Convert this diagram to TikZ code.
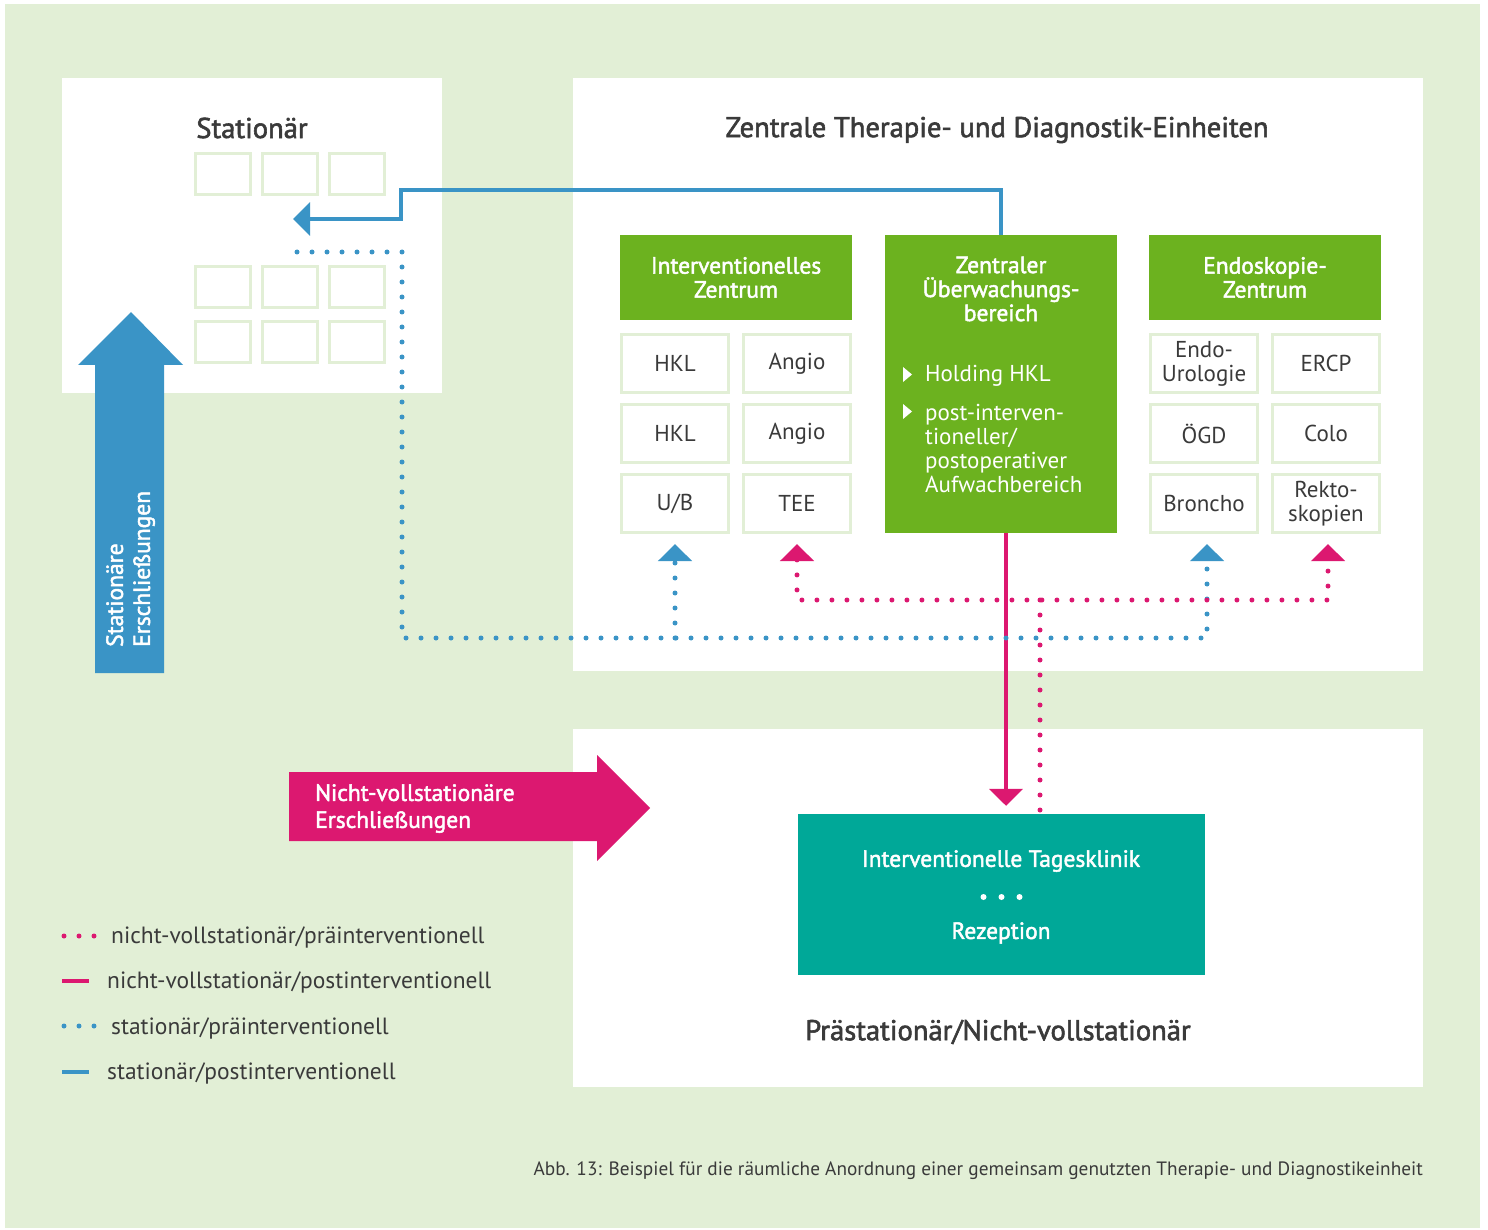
\documentclass[tikz,border=0pt]{standalone}
\usepackage{fontspec}
\usepackage{graphicx}
\setmainfont{PT Sans}
\newfontfamily\medfont[FakeBold=2]{PT Sans}
\usetikzlibrary{arrows.meta,positioning}

\definecolor{bggreen}{HTML}{E2EFD6}
\definecolor{hdgreen}{HTML}{6CB21F}
\definecolor{stblue}{HTML}{3A94C6}
\definecolor{nvmagenta}{HTML}{DC1870}
\definecolor{tkteal}{HTML}{00A898}
\definecolor{txtgray}{HTML}{3A3A3A}

\begin{document}
\begin{tikzpicture}
[
x=1pt, y=-1pt,
font=\fontsize{23}{24}\selectfont,
panel/.style={fill=white, inner sep=0pt},
room/.style={draw=bggreen, line width=3pt, minimum width=55pt, minimum height=41pt, inner sep=0pt},
cell/.style={draw=bggreen, line width=3pt, fill=white, minimum width=107pt, minimum height=58pt, inner sep=0pt, align=center, text=txtgray},
head/.style={fill=hdgreen, text=white, align=center, minimum width=232pt, inner sep=0pt, font=\medfont\fontsize{23.5}{24}\selectfont},
title/.style={text=txtgray, inner sep=0pt, font=\medfont\fontsize{28.6}{30}\selectfont},
white text/.style={text=white, inner sep=0pt, align=left, font=\medfont\fontsize{23.5}{27}\selectfont},
legend/.style={anchor=west, text=txtgray, inner sep=0pt, font=\fontsize{23.5}{24}\selectfont},
post/.style={line width=4pt, -{Triangle[length=17pt,width=33pt]}},
prae/.style={line width=5pt, line cap=round, dash pattern=on 0pt off 15pt}
]
\useasboundingbox (0,0) rectangle (1488,1230);
\fill[white] (0,0) rectangle (1488,1230);
\fill[bggreen] (5,4) rectangle (1480,1228);

% Bereiche
\node[panel, minimum width=380pt, minimum height=315pt] (stat) at (252,235.5) {};
\node[panel, minimum width=850pt, minimum height=593pt] (zent) at (998,374.5) {};
\node[panel, minimum width=850pt, minimum height=358pt] (prae) at (998,908) {};

\node[title] (stattitle) at (252,128) {Stationär};
\node[title] (zenttitle) at (997,130) {Zentrale Therapie- und Diagnostik-Einheiten};
\node[title] (praetitle) at (998,1032) {Prästationär/Nicht-vollstationär};

% Zimmer
\foreach \r/\yy in {1/174,2/287.5,3/342.5}
  \foreach \c/\xx in {1/223,2/290,3/357}
    \node[room] (room\r\c) at (\xx,\yy) {};

% Stationaere Erschliessungen
\fill[stblue] (95,673) -- (95,365) -- (78,365) -- (131,312) -- (183,365) -- (164,365) -- (164,673) -- cycle;
\node[white text, rotate=90, anchor=north west] (stattext) at (106,647) {Stationäre\\Erschließungen};

% Zentren
\node[head, minimum height=85pt] (iz) at (736,277.5) {Interventionelles\\Zentrum};
\node[head, minimum height=298pt] (zub) at (1001,384) {};
\node[head, minimum height=85pt] (ez) at (1265,277.5) {Endoskopie-\\Zentrum};

\node[head, fill=none] (zubtitle) at (1001,289) {Zentraler\\Überwachungs-\\bereich};
\fill[white] (903,367) -- (912,374.5) -- (903,382) -- cycle;
\fill[white] (903,404) -- (912,411.5) -- (903,419) -- cycle;
\node[anchor=west, text=white, inner sep=0pt] (holding) at (925,376) {Holding HKL};
\node[anchor=north west, align=left, text=white, inner sep=0pt] (aufwach) at (925,404) {post-interven-\\tioneller/\\postoperativer\\Aufwachbereich};

\node[cell] (hkla) at (675,363.5) {HKL};
\node[cell] (angioa) at (797,363.5) {Angio};
\node[cell] (hklb) at (675,433.5) {HKL};
\node[cell] (angiob) at (797,433.5) {Angio};
\node[cell] (ub) at (675,503.5) {U/B};
\node[cell] (tee) at (797,503.5) {TEE};

\node[cell] (endouro) at (1204,363.5) {Endo-\\Urologie};
\node[cell] (ercp) at (1326,363.5) {ERCP};
\node[cell] (ogd) at (1204,433.5) {ÖGD};
\node[cell] (colo) at (1326,433.5) {Colo};
\node[cell] (broncho) at (1204,503.5) {Broncho};
\node[cell] (rekto) at (1326,503.5) {Rekto-\\skopien};

% Tagesklinik
\node[fill=tkteal, minimum width=407pt, minimum height=161pt, inner sep=0pt] (tk) at (1001.5,894.5) {};
\node[white text] (tktitle) at (1001,861) {Interventionelle Tagesklinik};
\foreach \dx in {-18,0,18}
  \fill[white] ([xshift=\dx pt, yshift=-2.5pt]tk.center) circle (3pt);
\node[white text] (rezeption) at (1001,933) {Rezeption};

% Nicht-vollstationaere Erschliessungen
\fill[nvmagenta] (289,772) -- (597,772) -- (597,755) -- (650,808) -- (597,861) -- (597,841) -- (289,841) -- cycle;
\node[white text, anchor=west] (nvtext) at (315,808.5) {Nicht-vollstationäre\\Erschließungen};

% Wege
\coordinate (statpost) at (293,219);
\coordinate (statprae) at (297,252);
\coordinate (bluebus) at (402,638);
\coordinate (pinkbus) at (1040,600);

\draw[post, stblue] (zub.north) |- (401,190) |- (statpost);
\draw[post, nvmagenta, shorten >=8pt] ([xshift=5pt]zub.south) -- ([xshift=5pt]zub.south |- tk.north);

\draw[prae, stblue, -{Triangle[length=17pt,width=33pt]}, shorten >=10pt] (statprae) -| (bluebus) -| ([xshift=3pt]broncho.south);
\draw[prae, stblue, -{Triangle[length=17pt,width=33pt]}, shorten >=10pt] (ub.south |- bluebus) -- (ub.south);

\draw[prae, nvmagenta, {Triangle[length=17pt,width=33pt]}-{Triangle[length=17pt,width=33pt]}, shorten <=10pt, shorten >=10pt] (tee.south) |- (pinkbus) -| ([xshift=2pt]rekto.south);
\draw[prae, nvmagenta] (pinkbus) -- (pinkbus |- tk.north);

% Legende
\draw[prae, nvmagenta] (64,936) -- (94.5,936);
\node[legend] (lg1) at (111,937) {nicht-vollstationär/präinterventionell};
\draw[line width=4pt, nvmagenta] (62,981) -- (89,981);
\node[legend] (lg2) at (107,982) {nicht-vollstationär/postinterventionell};
\draw[prae, stblue] (64,1026) -- (94.5,1026);
\node[legend] (lg3) at (111,1028) {stationär/präinterventionell};
\draw[line width=4pt, stblue] (62,1072) -- (89,1072);
\node[legend] (lg4) at (107,1073) {stationär/postinterventionell};

\node[anchor=east, text=txtgray, inner sep=0pt, font=\fontsize{19.3}{21}\selectfont] (caption) at (1423,1171) {Abb. 13: Beispiel für die räumliche Anordnung einer gemeinsam genutzten Therapie- und Diagnostikeinheit};
\end{tikzpicture}
\end{document}
